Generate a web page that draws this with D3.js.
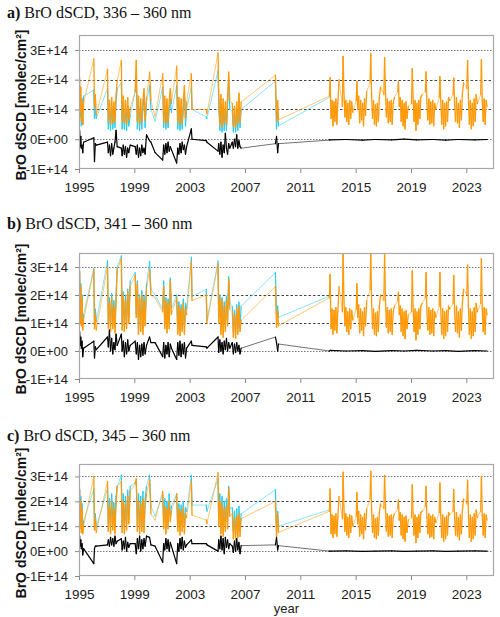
<!DOCTYPE html>
<html>
<head>
<meta charset="utf-8">
<script src="https://cdn.jsdelivr.net/npm/d3@7"></script>
<style>
  body { margin: 0; background: #fff; }
  svg { display: block; }
  .tick text { font-family: "Liberation Sans", Arial, sans-serif; font-size: 13px; fill: #222; }
  .xaxis .tick text { font-size: 13.5px; }
</style>
</head>
<body>
<svg id="chart"></svg>
<script>
// tidspunkter (decimal-år) for målekampagnerne 1995-2009, sidste punkt er 2013.1 hvor den nye serie starter
const tEarly = [
  1995.05, 1995.09, 1995.13, 1995.17, 1995.22, 1995.27, 1995.33,
  1996.07, 1996.12, 1996.18, 1996.25,
  1997.06, 1997.12, 1997.2, 1997.28, 1997.36, 1997.44, 1997.52, 1997.6, 1997.68, 1997.76,
  1998.06, 1998.12, 1998.2, 1998.28, 1998.36, 1998.44, 1998.52, 1998.6, 1998.7,
  1999.06, 1999.14, 1999.22, 1999.3, 1999.38, 1999.46, 1999.54, 1999.62, 1999.7, 1999.78, 1999.88, 2000.1, 2000.2, 2000.5,
  2001.05, 2001.12, 2001.2, 2001.28, 2001.36, 2001.44, 2001.52, 2001.6, 2001.68,
  2002.06, 2002.14, 2002.22, 2002.3, 2002.38, 2002.46, 2002.54, 2002.62, 2002.7, 2002.78,
  2003.12, 2003.17,
  2004.2, 2004.25,
  2005.05, 2005.1, 2005.18, 2005.26, 2005.34, 2005.42, 2005.5, 2005.58, 2005.66, 2005.74, 2005.82, 2005.9,
  2006.08, 2006.16, 2006.24, 2006.32, 2006.4, 2006.48, 2006.56, 2006.64, 2006.72,
  2009.2, 2009.28, 2009.36, 2009.42,
  2013.1
];

// tidspunkter for den sammenhængende serie 2013-2024
const tLate = [
  2013.15, 2013.22, 2013.29, 2013.36, 2013.43, 2013.5, 2013.57, 2013.64, 2013.71, 2013.8,
  2014.04, 2014.09, 2014.15, 2014.22, 2014.29, 2014.36, 2014.43, 2014.5, 2014.57, 2014.64, 2014.71, 2014.8,
  2015.04, 2015.09, 2015.15, 2015.22, 2015.29, 2015.36, 2015.43, 2015.5, 2015.57, 2015.64, 2015.71, 2015.8,
  2016.04, 2016.09, 2016.15, 2016.22, 2016.29, 2016.36, 2016.43, 2016.5, 2016.57, 2016.64, 2016.71, 2016.8,
  2017.04, 2017.09, 2017.15, 2017.22, 2017.29, 2017.36, 2017.43, 2017.5, 2017.57, 2017.64, 2017.71, 2017.8,
  2018.04, 2018.09, 2018.15, 2018.22, 2018.29, 2018.36, 2018.43, 2018.5, 2018.57, 2018.64, 2018.71, 2018.8,
  2019.04, 2019.09, 2019.15, 2019.22, 2019.29, 2019.36, 2019.43, 2019.5, 2019.57, 2019.64, 2019.71, 2019.8,
  2020.04, 2020.09, 2020.15, 2020.22, 2020.29, 2020.36, 2020.43, 2020.5, 2020.57, 2020.64, 2020.71, 2020.8,
  2021.04, 2021.09, 2021.15, 2021.22, 2021.29, 2021.36, 2021.43, 2021.5, 2021.57, 2021.64, 2021.71, 2021.8,
  2022.04, 2022.09, 2022.15, 2022.22, 2022.29, 2022.36, 2022.43, 2022.5, 2022.57, 2022.64, 2022.71, 2022.8,
  2023.04, 2023.09, 2023.15, 2023.22, 2023.29, 2023.36, 2023.43, 2023.5, 2023.57, 2023.64, 2023.71, 2023.8,
  2024.04, 2024.09, 2024.15, 2024.22, 2024.29, 2024.36, 2024.43, 2024.5
];

// differensen efter 2013 ligger næsten på nul, få punkter er nok
const tBlackLate = [2013.15, 2014.3, 2015.5, 2016.4, 2017.6, 2018.5, 2019.4, 2020.6, 2021.5, 2022.4, 2023.6, 2024.5];

// alle værdier i enheder af 1E+14 molec/cm²
// ---- a) 336 - 360 nm
const orangeEarlyA = [
  2.05, 0.95, 1.75, 0.6, 1.35, 0.5, 1.2,
  2.7, 1.1, 1.5, 0.8,
  2.35, 0.6, 1.3, 0.5, 1.4, 0.55, 1.25, 0.6, 1.5, 1.95,
  2.65, 0.6, 1.45, 0.55, 1.3, 0.5, 1.4, 0.65, 1.05,
  1.6, 2.65, 0.6, 1.45, 0.5, 1.35, 0.6, 1.3, 1.7, 0.65, 1.4, 2.25, 1.3, 0.75,
  2.2, 0.6, 1.45, 0.5, 1.35, 0.6, 1.3, 1.7, 1.2,
  2.45, 0.6, 1.4, 0.5, 1.35, 0.55, 1.3, 1.8, 0.7, 1.25,
  2.2, 1.0,
  1.0, 0.85,
  2.9, 1.6, 0.5, 1.5, 0.4, 1.35, 0.55, 1.25, 0.5, 1.4, 2.25, 1.3,
  1.2, 0.45, 1.1, 0.4, 1.25, 0.5, 1.55, 0.6, 1.25,
  2.15, 0.6, 1.3, 0.65,
  1.45
];
const cyanEarlyA = [
  1.6, 0.75, 1.4, 0.45, 1.1, 0.5, 1.45,
  1.65, 0.7, 1.1, 0.7,
  1.7, 0.35, 1.0, 0.3, 1.1, 0.35, 0.95, 0.4, 1.3, 1.7,
  1.9, 0.35, 1.15, 0.35, 1.0, 0.3, 1.1, 0.45, 0.8,
  1.6, 2.0, 0.35, 1.1, 0.3, 1.05, 0.35, 1.0, 1.5, 0.4, 1.25, 1.8, 1.0, 0.6,
  1.75, 0.4, 1.1, 0.35, 1.0, 0.4, 1.0, 1.35, 0.9,
  1.8, 0.35, 1.1, 0.3, 1.0, 0.35, 1.0, 1.5, 0.45, 1.0,
  1.75, 1.0,
  0.75, 0.7,
  2.3, 1.2, 0.3, 1.2, 0.25, 1.05, 0.3, 1.0, 0.3, 1.1, 2.0, 1.0,
  0.95, 0.25, 0.85, 0.25, 1.0, 0.3, 1.35, 0.4, 1.0,
  1.95, 0.35, 1.05, 0.45,
  1.4
];
const blackEarlyA = [
  0.3, -0.25, 0.1, -0.3, -0.2, -0.45, -0.1,
  0.05, -0.75, -0.15, -0.2,
  -0.1, -0.45, -0.2, -0.55, -0.15, -0.5, -0.3, -0.1, 0.3, -0.25,
  -0.3, -0.55, -0.2, -0.5, -0.25, -0.6, -0.3, -0.45, -0.2,
  -0.25, -0.5, -0.2, -0.6, -0.3, -0.55, -0.2, -0.45, -0.3, -0.5, 0.15, -0.05, -0.1, -0.45,
  -0.7, -0.2, -0.5, -0.15, -0.45, -0.1, -0.4, -0.25, -0.35,
  -0.8, -0.3, -0.5, -0.15, -0.45, -0.1, -0.35, -0.2, -0.5, -0.25,
  0.35, 0.0,
  -0.05, -0.1,
  -0.4, -0.15, -0.5, -0.1, -0.6, -0.2, -0.45, 0.2, -0.3, -0.5, -0.15, -0.3,
  -0.1, -0.3, 0.0, -0.25, 0.15, -0.3, -0.05, -0.25, -0.3,
  -0.15, 0.1, -0.45, -0.15,
  -0.03
];
const orangeLateA = [
  2.07, 0.7, 1.3, 0.45, 1.25, 0.6, 1.35, 0.5, 1.2, 2.0,
  1.1, 2.78, 1.6, 0.75, 1.3, 0.6, 1.2, 0.5, 1.3, 0.7, 1.25, 0.9,
  1.3, 1.93, 1.0, 1.45, 0.55, 1.3, 0.65, 1.2, 0.45, 1.35, 0.8, 1.6,
  1.9, 2.87, 1.5, 0.7, 1.3, 0.5, 1.15, 0.45, 1.2, 0.6, 1.4, 1.75,
  1.5, 2.74, 1.7, 0.75, 1.35, 0.55, 1.25, 0.6, 1.3, 0.5, 1.2, 1.4,
  1.6, 1.93, 1.1, 1.4, 0.6, 1.3, 0.45, 1.2, 0.35, 1.25, 0.7, 1.1,
  1.2, 2.37, 1.4, 0.6, 1.3, 0.3, 1.2, 0.5, 1.3, 0.7, 1.4, 1.5,
  1.6, 2.26, 1.2, 0.65, 1.35, 0.5, 1.25, 0.55, 1.3, 0.45, 1.2, 1.0,
  1.4, 2.1, 1.3, 0.5, 1.3, 0.35, 1.2, 0.45, 1.25, 0.6, 1.4, 1.3,
  1.5, 2.05, 1.2, 0.6, 1.4, 0.55, 1.2, 0.4, 1.3, 0.65, 1.5, 1.9,
  1.7, 2.65, 1.4, 0.5, 1.3, 0.35, 1.2, 0.45, 1.35, 0.6, 1.5, 1.2,
  1.5, 2.67, 1.3, 0.6, 1.35, 0.5, 1.3, 1.1
];
const blackLateA = [-0.02, -0.01, -0.03, -0.01, -0.02, 0.0, -0.02, -0.01, -0.03, -0.01, -0.02, -0.01];

// ---- b) 341 - 360 nm
const orangeEarlyB = [
  2.8, 1.0, 2.3, 0.9, 1.9, 0.75, 1.1,
  2.9, 0.8, 1.3, 0.75,
  3.0, 0.8, 1.7, 0.7, 1.9, 0.8, 1.6, 0.65, 1.8, 2.9,
  3.3, 0.75, 2.0, 0.7, 1.8, 0.8, 2.1, 1.0, 2.3,
  2.7, 1.2, 2.4, 0.6, 1.9, 0.7, 2.0, 0.6, 1.8, 0.9, 2.2, 2.9, 2.0, 1.9,
  1.4, 2.3, 0.8, 1.8, 0.65, 1.7, 0.8, 2.5, 1.3,
  1.9, 0.6, 1.6, 0.55, 1.5, 0.7, 1.7, 0.6, 1.5, 1.3,
  3.2, 1.8,
  2.0, 1.0,
  3.1, 1.0, 1.9, 0.6, 1.8, 0.5, 1.6, 0.7, 1.8, 0.9, 2.55, 1.5,
  1.4, 0.5, 1.3, 0.45, 1.5, 0.6, 1.6, 0.7, 1.1,
  2.3, 0.85, 1.4, 0.9,
  1.9
];
const cyanEarlyB = [
  2.85, 1.2, 2.4, 1.1, 2.0, 0.95, 1.3,
  2.95, 0.95, 1.5, 1.05,
  3.22, 1.0, 1.9, 0.9, 2.05, 1.0, 1.8, 0.85, 2.0, 3.0,
  3.4, 0.95, 2.1, 0.9, 2.0, 1.0, 2.2, 1.2, 2.5,
  2.8, 1.35, 2.5, 0.8, 2.0, 0.9, 2.15, 0.8, 1.95, 1.1, 2.4, 3.2, 2.2, 2.0,
  1.5, 2.5, 1.0, 1.9, 0.85, 1.85, 1.0, 2.6, 1.5,
  2.0, 0.8, 1.75, 0.75, 1.65, 0.9, 1.85, 0.8, 1.7, 1.5,
  3.35, 1.95,
  2.2, 1.1,
  3.22, 1.2, 2.0, 0.8, 1.9, 0.7, 1.75, 0.9, 1.95, 1.1, 2.65, 1.7,
  1.6, 0.7, 1.45, 0.65, 1.65, 0.8, 1.75, 0.85, 1.6,
  2.8, 1.3, 1.6, 1.2,
  1.96
];
const blackEarlyB = [
  0.7, 0.2, 0.5, 0.1, 0.35, -0.2, 0.1,
  0.35, -0.25, 0.15, 0.05,
  0.5, 0.15, 0.75, 0.0, 0.45, -0.1, 0.3, 0.05, 0.6, 0.2,
  0.6, 0.0, 0.35, -0.2, 0.3, -0.1, 0.4, 0.0, 0.2,
  0.35, -0.1, 0.3, -0.3, 0.2, -0.2, 0.25, -0.15, 0.3, -0.1, 0.2, 0.5, 0.3, 0.3,
  -0.2, 0.3, -0.25, 0.2, -0.1, 0.3, -0.2, 0.25, 0.1,
  -0.3, 0.3, -0.15, 0.35, -0.2, 0.25, -0.1, 0.3, -0.25, 0.1,
  0.35, 0.2,
  0.15, 0.1,
  0.5, -0.05, 0.4, 0.0, 0.3, -0.1, 0.35, 0.05, 0.45, 0.0, 0.3, 0.1,
  0.3, -0.1, 0.25, -0.05, 0.3, 0.0, 0.2, -0.1, 0.1,
  0.5, 0.3, 0.0, 0.25,
  0.0
];
const orangeLateB = [
  2.74, 0.8, 1.5, 0.6, 1.45, 0.75, 1.55, 0.65, 1.4, 2.3,
  1.4, 3.5, 1.9, 0.9, 1.55, 0.7, 1.4, 0.6, 1.5, 0.8, 1.45, 1.1,
  1.5, 2.4, 1.2, 1.65, 0.65, 1.5, 0.75, 1.4, 0.55, 1.55, 0.9, 1.8,
  2.2, 3.5, 1.8, 0.8, 1.5, 0.6, 1.35, 0.55, 1.4, 0.7, 1.6, 2.0,
  1.8, 3.45, 2.0, 0.85, 1.55, 0.65, 1.45, 0.7, 1.5, 0.6, 1.4, 1.6,
  1.8, 2.1, 1.3, 1.6, 0.7, 1.5, 0.55, 1.4, 0.45, 1.45, 0.8, 1.3,
  1.4, 2.86, 1.6, 0.7, 1.5, 0.4, 1.4, 0.6, 1.5, 0.8, 1.6, 1.7,
  1.9, 2.8, 1.4, 0.75, 1.55, 0.6, 1.45, 0.65, 1.5, 0.55, 1.4, 1.2,
  1.6, 2.8, 1.5, 0.6, 1.5, 0.45, 1.4, 0.55, 1.45, 0.7, 1.6, 1.5,
  1.7, 2.7, 1.4, 0.7, 1.6, 0.65, 1.4, 0.5, 1.5, 0.75, 1.7, 2.2,
  2.0, 3.07, 1.6, 0.6, 1.5, 0.45, 1.4, 0.55, 1.55, 0.7, 1.7, 1.4,
  1.7, 3.3, 1.5, 0.7, 1.55, 0.6, 1.5, 1.3
];
const blackLateB = [0.02, 0.0, 0.01, -0.01, 0.01, 0.0, 0.02, 0.0, 0.01, -0.01, 0.01, 0.0];

// ---- c) 345 - 360 nm
const orangeEarlyC = [
  2.45, 0.9, 2.0, 0.75, 1.7, 0.7, 1.0,
  3.0, 0.85, 1.3, 0.75,
  2.8, 0.8, 1.8, 0.7, 2.0, 0.85, 1.7, 0.7, 1.9, 2.6,
  2.8, 0.75, 2.0, 0.7, 1.9, 0.85, 2.2, 1.1, 2.4,
  2.7, 2.9, 0.8, 2.0, 0.7, 1.9, 0.8, 2.1, 0.75, 1.8, 2.3, 2.85, 1.5, 1.25,
  2.4, 0.9, 1.8, 0.7, 1.7, 0.9, 2.0, 1.2, 1.6,
  2.3, 0.8, 1.7, 0.65, 1.6, 0.8, 1.75, 0.7, 1.5, 1.35,
  2.8, 1.45,
  1.25, 1.1,
  3.15, 1.0, 2.0, 0.7, 1.9, 0.6, 1.7, 0.8, 1.8, 0.9, 2.5, 1.4,
  1.5, 0.5, 1.3, 0.45, 1.4, 0.55, 1.5, 0.6, 1.3,
  2.0, 0.6, 1.5, 0.75,
  1.6
];
const cyanEarlyC = [
  2.5, 1.2, 2.2, 1.0, 1.9, 0.9, 1.2,
  2.5, 0.95, 1.5, 0.97,
  2.5, 1.1, 2.1, 1.0, 2.3, 1.1, 1.95, 1.0, 2.2, 2.6,
  3.05, 1.0, 2.3, 0.95, 2.2, 1.1, 2.45, 1.3, 2.6,
  2.75, 2.8, 1.0, 2.3, 0.95, 2.2, 1.05, 2.4, 1.0, 2.1, 2.6, 3.05, 1.8, 1.4,
  2.3, 1.15, 2.1, 0.95, 2.0, 1.15, 2.3, 1.4, 1.8,
  2.3, 1.0, 1.9, 0.9, 1.85, 1.05, 2.0, 0.95, 1.75, 1.6,
  3.05, 1.85,
  1.85, 1.6,
  2.9, 1.25, 2.3, 0.95, 2.2, 0.85, 2.0, 1.05, 2.1, 1.15, 2.6, 1.7,
  1.75, 0.8, 1.6, 0.7, 1.7, 0.8, 1.8, 0.85, 1.5,
  2.47, 0.8, 1.6, 1.0,
  1.66
];
const blackEarlyC = [
  0.6, 0.2, 0.45, 0.1, 0.3, -0.15, 0.1,
  -0.5, 0.1, 0.2, 0.2,
  0.25, 0.45, 0.2, 0.55, 0.25, 0.5, 0.2, 0.6, 0.3, 0.4,
  0.5, 0.05, 0.4, 0.1, 0.55, 0.0, 0.35, 0.15, 0.3,
  0.3, -0.1, 0.5, 0.1, 0.6, 0.0, 0.45, 0.1, 0.5, 0.2, 0.6, 0.55, 0.25, 0.2,
  -0.45, 0.3, 0.05, 0.5, 0.1, 0.45, 0.0, 0.35, 0.2,
  -0.5, 0.3, 0.0, 0.5, 0.1, 0.55, 0.05, 0.4, 0.15, 0.25,
  0.45, 0.3,
  0.3, 0.25,
  0.0, 0.45, 0.1, 0.6, 0.05, 0.5, -0.1, 0.55, 0.15, 0.45, 0.1, 0.3,
  0.2, -0.05, 0.4, 0.0, 0.5, 0.05, 0.35, -0.1, 0.22,
  0.25, 0.55, 0.05, 0.22,
  0.0
];
const orangeLateC = [
  2.5, 0.7, 1.45, 0.55, 1.4, 0.7, 1.5, 0.6, 1.35, 2.2,
  1.3, 3.17, 1.8, 0.8, 1.5, 0.65, 1.35, 0.55, 1.45, 0.75, 1.4, 1.0,
  1.4, 2.35, 1.1, 1.6, 0.6, 1.45, 0.7, 1.35, 0.5, 1.5, 0.85, 1.7,
  2.1, 3.2, 1.7, 0.75, 1.45, 0.55, 1.3, 0.5, 1.35, 0.65, 1.55, 1.9,
  1.7, 3.04, 1.9, 0.8, 1.5, 0.6, 1.4, 0.65, 1.45, 0.55, 1.35, 1.5,
  1.7, 2.06, 1.25, 1.55, 0.65, 1.45, 0.5, 1.35, 0.4, 1.4, 0.75, 1.25,
  1.35, 2.66, 1.5, 0.65, 1.45, 0.35, 1.35, 0.55, 1.45, 0.75, 1.55, 1.6,
  1.8, 2.6, 1.35, 0.7, 1.5, 0.55, 1.4, 0.6, 1.45, 0.5, 1.35, 1.15,
  1.55, 2.74, 1.45, 0.55, 1.45, 0.4, 1.35, 0.5, 1.4, 0.65, 1.55, 1.45,
  1.6, 2.47, 1.35, 0.65, 1.55, 0.6, 1.35, 0.45, 1.45, 0.7, 1.6, 2.1,
  1.9, 2.85, 1.5, 0.55, 1.45, 0.4, 1.35, 0.5, 1.5, 0.65, 1.65, 1.35,
  1.6, 3.0, 1.45, 0.65, 1.5, 0.55, 1.45, 1.25
];
const blackLateC = [0.0, 0.01, -0.01, 0.0, 0.01, -0.01, 0.0, 0.01, -0.01, 0.0, 0.01, 0.0];

// aksernes tick-værdier og etiketter
const xTicks = [1995, 1999, 2003, 2007, 2011, 2015, 2019, 2023];
const yTicks = [-1, 0, 1, 2, 3];
const yTickLabels = ["-1E+14", "0E+00", "1E+14", "2E+14", "3E+14"];
const gridValues = [0, 1, 2, 3];

// panelernes placering på siden
const panels = [
  { letter: "a)", label: " BrO dSCD, 336 – 360 nm", titleY: 18, top: 35, bottom: 169,
    orange: orangeEarlyA.concat(orangeLateA), cyan: cyanEarlyA, black: blackEarlyA.concat(blackLateA) },
  { letter: "b)", label: " BrO dSCD, 341 – 360 nm", titleY: 229, top: 253, bottom: 379,
    orange: orangeEarlyB.concat(orangeLateB), cyan: cyanEarlyB, black: blackEarlyB.concat(blackLateB) },
  { letter: "c)", label: " BrO dSCD, 345 – 360 nm", titleY: 441, top: 464, bottom: 576,
    orange: orangeEarlyC.concat(orangeLateC), cyan: cyanEarlyC, black: blackEarlyC.concat(blackLateC) }
];

const width = 500;
const height = 617;
const left = 79;
const right = 494;

const svg = d3.select("#chart")
  .attr("width", width)
  .attr("height", height);

svg.append("rect").attr("width", width).attr("height", height).attr("fill", "#fff");

// fælles x-skala for alle tre paneler
const xScale = d3.scaleLinear()
  .domain([1995, 2025])
  .range([left, right]);

const tOrange = tEarly.concat(tLate);
const tBlack = tEarly.concat(tBlackLate);

// tegner en serie som enkelte linjestykker: lange spring over huller i målingerne
// bliver tynde og lyse, de tætte målinger bliver fyldige
function drawSeries(parent, times, values, yScale, color, wide, gap) {
  const pts = d3.zip(times, values);
  parent.append("g")
    .selectAll("line")
    .data(d3.pairs(pts))
    .join("line")
    .attr("x1", d => xScale(d[0][0]))
    .attr("y1", d => yScale(d[0][1]))
    .attr("x2", d => xScale(d[1][0]))
    .attr("y2", d => yScale(d[1][1]))
    .attr("stroke", color)
    .attr("stroke-linecap", "round")
    .attr("stroke-width", d => (d[1][0] - d[0][0]) > gap ? 0.9 : wide)
    .attr("stroke-opacity", d => (d[1][0] - d[0][0]) > gap ? 0.62 : 1);
}

panels.forEach((p, i) => {
  const yScale = d3.scaleLinear()
    .domain([-1, 3.5])
    .range([p.bottom, p.top]);

  const g = svg.append("g");

  // titel, bogstavet er fed
  const title = g.append("text")
    .attr("x", 7)
    .attr("y", p.titleY)
    .style("font-family", "'Liberation Serif', 'Times New Roman', serif")
    .style("font-size", "16px")
    .style("fill", "#111");
  title.append("tspan").style("font-weight", "bold").text(p.letter);
  title.append("tspan").text(p.label);

  // vandrette stiplede linjer
  g.selectAll(".grid")
    .data(gridValues)
    .join("line")
    .attr("x1", left)
    .attr("x2", right)
    .attr("y1", d => Math.round(yScale(d)) + 0.5)
    .attr("y2", d => Math.round(yScale(d)) + 0.5)
    .attr("stroke", d => (d === 0 || d === 3) ? "#777" : "#444")
    .attr("stroke-width", 1)
    .attr("stroke-dasharray", d => (d === 0 || d === 3) ? "1.5,1.5" : "2.5,2");

  // klip linjerne til plotområdet
  const clipId = "clip" + i;
  g.append("clipPath").attr("id", clipId)
    .append("rect")
    .attr("x", left).attr("y", p.top)
    .attr("width", right - left).attr("height", p.bottom - p.top);

  const plot = g.append("g").attr("clip-path", `url(#${clipId})`);

  drawSeries(plot, tEarly, p.cyan, yScale, "#2ccdf5", 1.2, 0.16);
  drawSeries(plot, tOrange, p.orange, yScale, "#ff9a0a", 1.3, 0.16);
  drawSeries(plot, tBlack, p.black, yScale, "#000", 1.2, 1.5);

  // ramme om plotområdet
  g.append("rect")
    .attr("x", left + 0.5)
    .attr("y", p.top + 0.5)
    .attr("width", right - left - 1)
    .attr("height", p.bottom - p.top - 1)
    .attr("fill", "none")
    .attr("stroke", "#a8a8a8")
    .attr("stroke-width", 1.2);

  // x-akse
  const xAxis = g.append("g")
    .attr("class", "xaxis")
    .attr("transform", `translate(0,${p.bottom})`)
    .call(d3.axisBottom(xScale).tickValues(xTicks).tickFormat(d3.format("d")).tickSize(4).tickSizeOuter(0).tickPadding(9));
  xAxis.select(".domain").remove();
  xAxis.selectAll(".tick line").attr("stroke", "#888");

  // y-akse
  const yAxis = g.append("g")
    .attr("transform", `translate(${left},0)`)
    .call(d3.axisLeft(yScale).tickValues(yTicks).tickFormat((d, k) => yTickLabels[k]).tickSize(4).tickSizeOuter(0).tickPadding(7));
  yAxis.select(".domain").remove();
  yAxis.selectAll(".tick line").attr("stroke", "#888");

  // y-aksens titel
  g.append("text")
    .attr("transform", `translate(26,${(p.top + p.bottom) / 2 + 3}) rotate(-90)`)
    .attr("text-anchor", "middle")
    .style("font-family", "'Liberation Sans', Arial, sans-serif")
    .style("font-size", "14px")
    .style("font-weight", "bold")
    .style("fill", "#111")
    .text("BrO dSCD [molec/cm²]");
});

// x-aksens titel under nederste panel
svg.append("text")
  .attr("x", (left + right) / 2)
  .attr("y", 613)
  .attr("text-anchor", "middle")
  .style("font-family", "'Liberation Sans', Arial, sans-serif")
  .style("font-size", "13px")
  .style("fill", "#222")
  .text("year");
</script>
</body>
</html>
